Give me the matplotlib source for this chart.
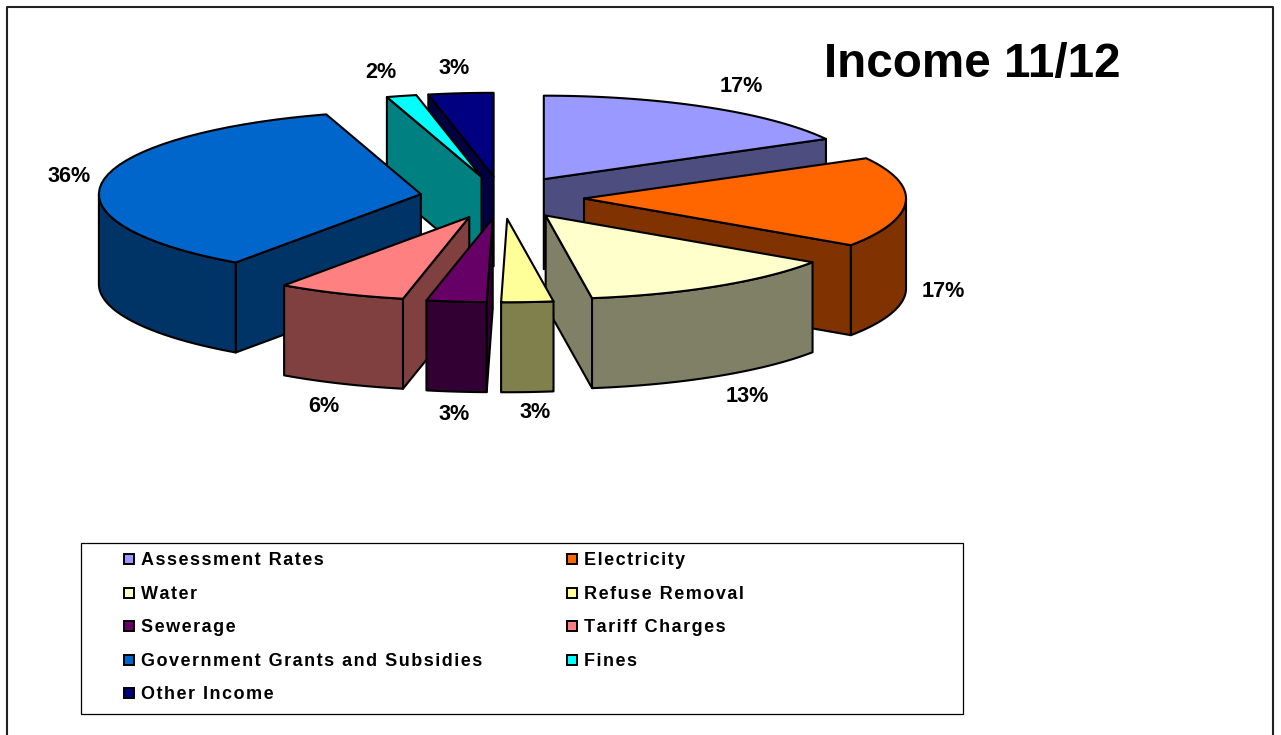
import numpy as np
import matplotlib
matplotlib.use("Agg")
import matplotlib.pyplot as plt
from matplotlib.patches import Polygon, Rectangle

categories = ["Assessment Rates", "Electricity", "Water", "Refuse Removal", "Sewerage",
              "Tariff Charges", "Government Grants and Subsidies", "Fines", "Other Income"]
values = [17.0, 17.45, 13.25, 2.6, 3.0, 6.45, 35.5, 1.5, 3.25]
colors = ["#9999FF", "#FF6600", "#FFFFCC", "#FFFF99", "#660066",
          "#FF8080", "#0066CC", "#00FFFF", "#000080"]
title = "Income 11/12"

# pie geometry in pixels
CX, CY = 502, 197.5
RX, RY = 322, 83.5
DEPTH = 90
EXPLODE = 0.255
LW = 1.5

plt.rcParams["font.family"] = ["Liberation Sans", "DejaVu Sans"]
plt.rcParams["font.weight"] = "bold"

fig = plt.figure(figsize=(12.81, 7.35), dpi=100)
ax = fig.add_axes([0, 0, 1, 1])
ax.set_xlim(0, 1281)
ax.set_ylim(735, 0)
ax.axis("off")


def shade(color):
    return tuple(c * 0.5 for c in matplotlib.colors.to_rgb(color))


def rim(ox, oy, a, b):
    # points along the elliptical edge, angles clockwise from 12 o'clock
    t = np.radians(np.linspace(a, b, 40))
    return np.column_stack([ox + RX * np.sin(t), oy - RY * np.cos(t)])


def face(pts, color, z):
    ax.add_patch(Polygon(pts, closed=True, facecolor=color, edgecolor="black",
                         lw=LW, joinstyle="round", zorder=z))


def lowered(pts):
    return pts + np.array([0, DEPTH])


def draw_slice(i, start, end, z):
    mid = np.radians((start + end) / 2)
    ox = CX + EXPLODE * RX * np.sin(mid)
    oy = CY - EXPLODE * RY * np.cos(mid)
    tip = np.array([[ox, oy]])
    side = shade(colors[i])

    # radial cut that faces the viewer
    if np.sin(np.radians(end)) > 0:
        edge = np.vstack([tip, rim(ox, oy, end, end)[:1]])
        face(np.vstack([edge, lowered(edge)[::-1]]), side, z)
    if np.sin(np.radians(start)) < 0:
        edge = np.vstack([tip, rim(ox, oy, start, start)[:1]])
        face(np.vstack([edge, lowered(edge)[::-1]]), side, z)

    # outer wall, only the front half of the ellipse shows
    a, b = max(start, 90), min(end, 270)
    if a < b:
        arc = rim(ox, oy, a, b)
        face(np.vstack([arc, lowered(arc)[::-1]]), side, z + 0.1)

    face(np.vstack([tip, rim(ox, oy, start, end)]), colors[i], z + 0.2)


edges = 3.6 * np.concatenate([[0], np.cumsum(values)])
mids = (edges[:-1] + edges[1:]) / 2

# back slices first so the front ones cover them
order = np.argsort(-np.cos(np.radians(mids)))
for z, i in enumerate(order):
    draw_slice(i, edges[i], edges[i + 1], 2 + z)

label_x = [741, 943, 747, 535, 454, 324, 69, 381, 454]
label_y = [86, 291, 396, 412, 414, 406, 176, 72, 68]
for x, y, v in zip(label_x, label_y, values):
    ax.text(x, y, f"{v:.0f}%", fontsize=15.6, ha="center", va="center", zorder=30)

ax.text(972.5, 64, title, fontsize=34.3, ha="center", va="center", zorder=30)

# outer frame has no bottom edge
ax.plot([7, 7, 1273, 1273], [735, 6.5, 6.5, 735], color="#222222", lw=1.5, zorder=1)

# legend box
ax.add_patch(Rectangle((81, 543), 882, 171, facecolor="white", edgecolor="black",
                       lw=0.9, zorder=1))
row_y = [559, 593, 626, 660, 693]
col_x = [124, 567]
for k, (name, c) in enumerate(zip(categories, colors)):
    x = col_x[k % 2]
    y = row_y[k // 2]
    ax.add_patch(Rectangle((x, y - 5), 10, 10, facecolor=c, edgecolor="black", lw=1.4, zorder=3))
    ax.text(x + 17, y + 6, "\u200a".join(name), fontsize=13, ha="left", va="baseline", zorder=3)

fig.savefig("out.png", dpi=100)
